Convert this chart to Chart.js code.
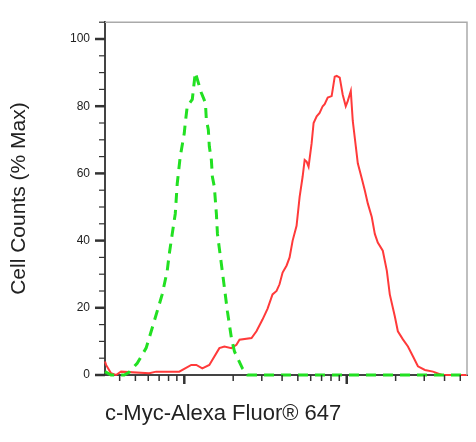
<!DOCTYPE html>
<html>
<head>
<meta charset="utf-8">
<script src="https://cdn.jsdelivr.net/npm/chart.js@4/dist/chart.umd.min.js"></script>
<style>
  html, body { margin: 0; padding: 0; background: #fff; }
  #wrap { width: 476px; height: 442px; }
</style>
</head>
<body>
<div id="wrap"><canvas id="histo" width="476" height="442"></canvas></div>
<script>
// isotype control (green dashed) - intensity and % max
const controlX = [325, 354, 427, 457, 513, 582, 608, 701, 731, 785, 808, 843, 880, 905, 944,
  1000, 1014, 1043, 1120, 1169, 1273, 1349, 1367, 1406, 1426, 1468, 1489, 1531, 1576, 1600,
  1692, 1766, 1842, 1950, 2036, 2280, 2448, 55000];
const controlY = [1, 0, 0, 0.8, 3.5, 8, 11, 21, 24, 31, 36, 42, 48, 57, 65,
  72, 75, 80, 82, 90, 84, 81, 76, 73, 68, 64, 59, 56, 48, 42,
  33, 26, 19, 11, 7, 2, 0, 0];

// c-Myc stained sample (red)
const sampleX = [325, 330, 354, 380, 408, 608, 671, 931, 1104, 1186, 1291, 1426, 1644, 1766, 1950,
  2094, 2187, 2594, 2781, 3030, 3252, 3493, 3698, 3857, 4029, 4266, 4448, 4645, 4911, 5129,
  5350, 5508, 5662, 5822, 6081, 6252, 6531, 6808, 7112, 7313, 7638, 8075, 8199, 8433, 8671,
  9057, 9441, 9862, 10142, 10594, 10894, 11377, 11699, 12380, 12912, 13490, 14260, 14890, 15530, 16670,
  17660, 18410, 19780, 20640, 22170, 23810, 25550, 27430, 30290, 33960, 38570, 55000];
const sampleY = [4, 3, 0.5, 0, 1, 0.5, 1, 1, 3, 3, 2, 3, 8, 8.5, 8,
  9, 10.5, 11, 13, 16.5, 19.7, 24, 25, 27, 30.5, 32.6, 35, 40, 44.4, 53,
  59, 64, 63.5, 62, 69, 75, 77, 78, 80, 80.6, 82.6, 83, 85, 88.8, 89,
  88.5, 83.5, 80, 81.5, 84.5, 75.6, 68, 63, 58.5, 55, 51, 47, 42, 39.4, 37,
  31, 24, 17.4, 13, 10.6, 8.5, 5.6, 2.6, 1.5, 1, 0, 0];

const yLabels = [0, 20, 40, 60, 80, 100];

const fontFam = 'Arial, "Liberation Sans", sans-serif';

function toPoints(xs, ys) {
  return xs.map((v, i) => ({ x: v, y: ys[i] }));
}

// frame on top/right plus long/short tick marks like the cytometer plot
const frameTicks = {
  id: 'frameTicks',
  afterDraw(chart) {
    const ctx = chart.ctx;
    const a = chart.chartArea;
    const x = chart.scales.x;
    const y = chart.scales.y;
    ctx.save();
    ctx.strokeStyle = '#aaa';
    ctx.lineWidth = 1.5;
    ctx.beginPath();
    ctx.moveTo(a.left, a.top);
    ctx.lineTo(a.right, a.top);
    ctx.lineTo(a.right, a.bottom);
    ctx.stroke();

    ctx.strokeStyle = '#333';
    x.ticks.forEach(t => {
      const e = Math.floor(Math.log10(t.value) + 1e-9);
      const s = t.value / Math.pow(10, e);
      if (Math.abs(s - Math.round(s)) > 1e-6) return;
      const major = Math.round(s) === 1;
      const px = x.getPixelForValue(t.value);
      ctx.lineWidth = major ? 2.5 : 1.5;
      ctx.beginPath();
      ctx.moveTo(px, a.bottom);
      ctx.lineTo(px, a.bottom + (major ? 9 : 6));
      ctx.stroke();
    });
    y.ticks.forEach(t => {
      const major = yLabels.includes(t.value);
      const py = y.getPixelForValue(t.value);
      ctx.lineWidth = major ? 2.5 : 1.2;
      ctx.beginPath();
      ctx.moveTo(a.left, py);
      ctx.lineTo(a.left - (major ? 10 : 6), py);
      ctx.stroke();
    });
    ctx.restore();
  }
};

const ctx = document.getElementById('histo');

new Chart(ctx, {
  type: 'line',
  data: {
    datasets: [
      {
        label: 'Isotype control',
        data: toPoints(controlX, controlY),
        borderColor: '#22e022',
        borderWidth: 3,
        borderDash: [10, 7],
        pointRadius: 0,
        tension: 0,
        fill: false,
        clip: 4
      },
      {
        label: 'c-Myc',
        data: toPoints(sampleX, sampleY),
        borderColor: '#ff3a3a',
        borderWidth: 2,
        pointRadius: 0,
        tension: 0,
        fill: false,
        clip: 4
      }
    ]
  },
  options: {
    responsive: false,
    animation: false,
    layout: { padding: { top: 16, right: 9, bottom: 15, left: 4 } },
    plugins: {
      legend: { display: false },
      tooltip: { enabled: false }
    },
    scales: {
      x: {
        type: 'logarithmic',
        min: 325,
        max: 55000,
        grid: { display: false, drawTicks: false },
        border: { display: true, color: '#444', width: 2 },
        ticks: { display: false },
        title: {
          display: true,
          text: 'c-Myc-Alexa Fluor® 647',
          align: 'start',
          color: '#222',
          font: { family: fontFam, size: 22 },
          padding: { top: 25, bottom: 0 }
        },
        afterFit: s => { s.height = 52; }
      },
      y: {
        min: 0,
        max: 105,
        grid: { display: false, drawTicks: false },
        border: { display: true, color: '#444', width: 2 },
        ticks: {
          stepSize: 5,
          autoSkip: false,
          padding: 15,
          color: '#222',
          font: { family: fontFam, size: 12 },
          callback: v => (yLabels.includes(v) ? String(v) : '')
        },
        title: {
          display: true,
          text: 'Cell Counts (% Max)',
          color: '#222',
          font: { family: fontFam, size: 21 },
          padding: { top: 3, bottom: 0 }
        },
        afterFit: s => { s.width = 101; }
      }
    }
  },
  plugins: [frameTicks]
});
</script>
</body>
</html>
